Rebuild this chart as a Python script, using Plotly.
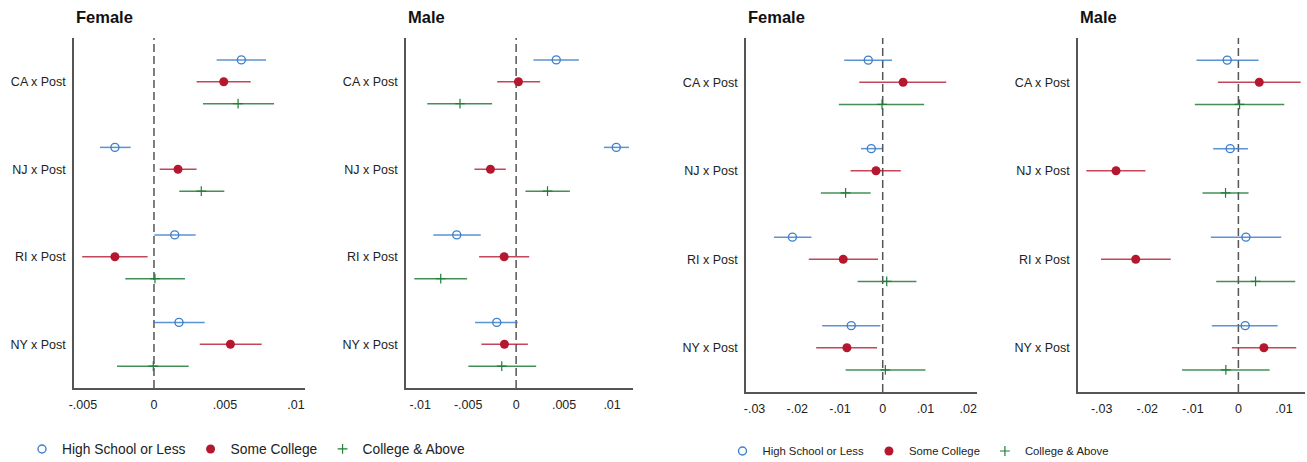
import plotly.graph_objects as go

W, H = 1307, 462

categories = ["CA x Post", "NJ x Post", "RI x Post", "NY x Post"]
series_names = ["High School or Less", "Some College", "College & Above"]

# ---- Panel 1: Female (left group)
p1_hs_est = [0.00615, -0.00275, 0.00146, 0.00176]
p1_hs_lo = [0.00441, -0.00380, 0.00002, -0.00005]
p1_hs_hi = [0.00789, -0.00164, 0.00293, 0.00357]
p1_sc_est = [0.00491, 0.00169, -0.00275, 0.00538]
p1_sc_lo = [0.00300, 0.00040, -0.00505, 0.00322]
p1_sc_hi = [0.00681, 0.00300, -0.00045, 0.00758]
p1_ca_est = [0.00592, 0.00333, 0.00007, -0.00005]
p1_ca_lo = [0.00345, 0.00178, -0.00202, -0.00260]
p1_ca_hi = [0.00845, 0.00495, 0.00218, 0.00244]

# ---- Panel 2: Male (left group)
p2_hs_est = [0.00418, 0.01044, -0.00619, -0.00202]
p2_hs_lo = [0.00180, 0.00915, -0.00863, -0.00428]
p2_hs_hi = [0.00654, 0.01176, -0.00369, 0.00017]
p2_sc_est = [0.00024, -0.00268, -0.00125, -0.00122]
p2_sc_lo = [-0.00198, -0.00435, -0.00386, -0.00362]
p2_sc_hi = [0.00250, -0.00108, 0.00136, 0.00122]
p2_ca_est = [-0.00585, 0.00327, -0.00786, -0.00150]
p2_ca_lo = [-0.00926, 0.00097, -0.01061, -0.00498]
p2_ca_hi = [-0.00250, 0.00560, -0.00511, 0.00209]

# ---- Panel 3: Female (right group)
p3_hs_est = [-0.00338, -0.00268, -0.02113, -0.00736]
p3_hs_lo = [-0.00901, -0.00509, -0.02545, -0.01416]
p3_hs_hi = [0.00218, -0.00016, -0.01667, -0.00055]
p3_sc_est = [0.00477, -0.00157, -0.00924, -0.00838]
p3_sc_lo = [-0.00549, -0.00752, -0.01730, -0.01557]
p3_sc_hi = [0.01486, 0.00423, -0.00110, -0.00133]
p3_ca_est = [-0.00016, -0.00869, 0.00094, 0.00062]
p3_ca_lo = [-0.01026, -0.01448, -0.00587, -0.00869]
p3_ca_hi = [0.00970, -0.00282, 0.00789, 0.01000]

# ---- Panel 4: Male (right group)
p4_hs_est = [-0.00245, -0.00180, 0.00165, 0.00150]
p4_hs_lo = [-0.00919, -0.00553, -0.00604, -0.00582]
p4_hs_hi = [0.00443, 0.00209, 0.00941, 0.00861]
p4_sc_est = [0.00458, -0.02685, -0.02253, 0.00560]
p4_sc_lo = [-0.00450, -0.03337, -0.03015, -0.00143]
p4_sc_hi = [0.01366, -0.02040, -0.01484, 0.01270]
p4_ca_est = [0.00026, -0.00282, 0.00377, -0.00275]
p4_ca_lo = [-0.00956, -0.00788, -0.00487, -0.01235]
p4_ca_hi = [0.01007, 0.00223, 0.01249, 0.00686]

# tick labels
p1_ticks = [-0.005, 0, 0.005, 0.01]
p1_ticktext = ["-.005", "0", ".005", ".01"]
p2_ticks = [-0.01, -0.005, 0, 0.005, 0.01]
p2_ticktext = ["-.01", "-.005", "0", ".005", ".01"]
p3_ticks = [-0.03, -0.02, -0.01, 0, 0.01, 0.02]
p3_ticktext = ["-.03", "-.02", "-.01", "0", ".01", ".02"]
p4_ticks = [-0.03, -0.02, -0.01, 0, 0.01]
p4_ticktext = ["-.03", "-.02", "-.01", "0", ".01"]

panel_titles = ["Female", "Male", "Female", "Male"]

panels = [
    dict(series=[(p1_hs_est, p1_hs_lo, p1_hs_hi), (p1_sc_est, p1_sc_lo, p1_sc_hi), (p1_ca_est, p1_ca_lo, p1_ca_hi)],
         ticks=p1_ticks, ticktext=p1_ticktext, xr=[-0.00563, 0.01063], px=(74, 305), py=(38, 388), legend="legend", show=True),
    dict(series=[(p2_hs_est, p2_hs_lo, p2_hs_hi), (p2_sc_est, p2_sc_lo, p2_sc_hi), (p2_ca_est, p2_ca_lo, p2_ca_hi)],
         ticks=p2_ticks, ticktext=p2_ticktext, xr=[-0.01148, 0.01218], px=(406, 633), py=(38, 388), legend="legend", show=False),
    dict(series=[(p3_hs_est, p3_hs_lo, p3_hs_hi), (p3_sc_est, p3_sc_lo, p3_sc_hi), (p3_ca_est, p3_ca_lo, p3_ca_hi)],
         ticks=p3_ticks, ticktext=p3_ticktext, xr=[-0.0320, 0.02207], px=(746, 977), py=(38, 392), legend="legend2", show=True),
    dict(series=[(p4_hs_est, p4_hs_lo, p4_hs_hi), (p4_sc_est, p4_sc_lo, p4_sc_hi), (p4_ca_est, p4_ca_lo, p4_ca_hi)],
         ticks=p4_ticks, ticktext=p4_ticktext, xr=[-0.0352, 0.01462], px=(1078, 1305), py=(38, 392), legend="legend2", show=False),
]

colors = ["#3f80cc", "#b5172e", "#217d37"]
err_colors = ["rgba(63,128,204,0.85)", "rgba(181,23,46,0.8)", "rgba(33,125,55,0.85)"]
markers = [
    dict(symbol="circle-open", size=8, line=dict(width=1.4, color=colors[0])),
    dict(symbol="circle", size=9, line=dict(width=0)),
    dict(symbol="cross-thin-open", size=7, line=dict(width=1.2, color=colors[2])),
]
offsets = [-0.25, 0.0, 0.25]

FONT = "Liberation Sans, Arial, sans-serif"
fig = go.Figure()
layout = dict(
    width=W, height=H, margin=dict(l=0, r=0, t=0, b=0, autoexpand=False),
    paper_bgcolor="white", plot_bgcolor="white", showlegend=True,
    font=dict(family=FONT, color="#222222", size=12.5),
)
shapes, annotations = [], []

for i, p in enumerate(panels):
    n = "" if i == 0 else str(i + 1)
    xa, ya = "x" + n, "y" + n
    for s, (est, lo, hi) in enumerate(p["series"]):
        ypos = [k + 1 + offsets[s] for k in range(len(categories))]
        fig.add_trace(go.Scatter(
            x=est, y=ypos, mode="markers", name=series_names[s],
            xaxis=xa, yaxis=ya, legend=p["legend"], showlegend=p["show"],
            marker=dict(color=colors[s], **markers[s]),
            error_x=dict(type="data", symmetric=False,
                         array=[h - e for e, h in zip(est, hi)],
                         arrayminus=[e - l for e, l in zip(est, lo)],
                         width=0, thickness=1.5, color=err_colors[s]),
            hoverinfo="skip",
        ))
    x0, x1 = p["px"][0] / W, p["px"][1] / W
    y0, y1 = (H - p["py"][1]) / H, (H - p["py"][0]) / H
    layout["xaxis" + n] = dict(
        domain=[x0, x1], range=p["xr"], anchor=ya, showgrid=False, zeroline=False,
        showline=True, linecolor="#555555", linewidth=1.5, ticks="", automargin=False,
        tickvals=p["ticks"], ticktext=p["ticktext"], tickfont=dict(size=12.5, color="#222222"),
        ticklabelstandoff=4, fixedrange=True,
    )
    layout["yaxis" + n] = dict(
        domain=[y0, y1], range=[4.5, 0.5], anchor=xa, showgrid=False, zeroline=False,
        showline=True, linecolor="#555555", linewidth=1.5, ticks="", automargin=False,
        tickvals=[1, 2, 3, 4], ticktext=categories, tickfont=dict(size=12.5, color="#222222"),
        ticklabelstandoff=4, fixedrange=True,
    )
    shapes.append(dict(type="line", xref=xa, yref=ya + " domain", x0=0, x1=0, y0=0, y1=1,
                       line=dict(color="#555555", width=1.5, dash="8px,4px"), layer="below"))
    annotations.append(dict(text="<b>" + panel_titles[i] + "</b>", xref="paper", yref="paper",
                            x=x0, y=(H - 17) / H, xanchor="left", yanchor="middle", showarrow=False,
                            font=dict(size=16.5, color="#111111", family=FONT)))

layout["shapes"] = shapes
layout["annotations"] = annotations
layout["legend"] = dict(orientation="h", x=246 / W, y=(H - 449) / H, xanchor="center", yanchor="middle",
                        font=dict(size=13.8, color="#222222"), bgcolor="rgba(0,0,0,0)")
layout["legend2"] = dict(orientation="h", x=918 / W, y=(H - 451) / H, xanchor="center", yanchor="middle",
                         font=dict(size=11.3, color="#222222"), bgcolor="rgba(0,0,0,0)")
fig.update_layout(**layout)
fig.write_html("out.html", config={"displayModeBar": False},
               post_script="document.body.style.margin='0';")
